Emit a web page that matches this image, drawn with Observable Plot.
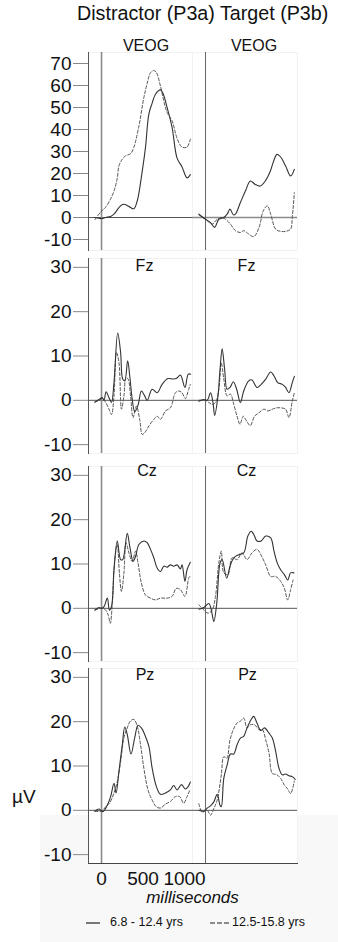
<!DOCTYPE html>
<html><head><meta charset="utf-8">
<script src="https://cdn.jsdelivr.net/npm/d3@7"></script>
<script src="https://cdn.jsdelivr.net/npm/@observablehq/plot@0.6"></script>
<style>
body{margin:0;background:#fff;font-family:"Liberation Sans",Arial,sans-serif;}
#root{position:relative;width:338px;height:942px;overflow:hidden;background:#fff;}
.t{position:absolute;white-space:nowrap;color:#111;}
</style></head><body><div id="root"></div>
<script>
// ---- categories / labels ----
const conditions = ["Distractor (P3a)", "Target (P3b)"];
const channels = ["VEOG", "Fz", "Cz", "Pz"];
const groups = ["6.8 - 12.4 yrs", "12.5-15.8 yrs"];
const veogTicks = [-10, 0, 10, 20, 30, 40, 50, 60, 70];
const eegTicks = [-10, 0, 10, 20, 30];
const timeTicks = [0, 500, 1000];

// ---- series: [milliseconds, µV] ----
const veogDistYoung = [[-80,0],[0,-0.5],[50,0],[110,0.5],[150,1.5],[210,4.5],[260,6],[310,5.5],[350,4.5],[390,4],[430,7.5],[490,21],[530,32],[570,47],[610,52],[650,56],[710,58],[740,56.5],[790,50],[850,41],[910,27],[970,23],[1030,18],[1070,19.5]];
const veogDistOlder = [[-80,-1],[-10,2.5],[50,4.7],[110,8.5],[150,12],[190,18],[210,23.5],[250,26.5],[290,28],[350,29],[390,32],[450,41.5],[510,54.5],[550,61],[590,65.8],[630,66.8],[660,66],[710,59.7],[750,53],[790,47.7],[850,44],[910,36],[970,32],[1030,32],[1070,35.6]];
const veogTargYoung = [[-80,1.5],[0,-0.8],[60,-2.3],[110,-4.5],[160,-0.8],[220,0],[260,1.5],[295,3.8],[335,1.2],[360,1.5],[420,6.8],[480,12],[540,16.6],[600,15],[660,14.3],[720,16.6],[780,21],[820,25.6],[860,28.7],[905,27.5],[965,23.4],[1025,18.9],[1070,21.9]];
const veogTargOlder = [[-80,1.2],[0,-0.8],[80,-3],[140,-0.8],[200,0],[240,-0.8],[300,-3],[360,-6],[420,-6.8],[460,-6],[520,-7.5],[580,-8.7],[645,-4.5],[695,3],[745,5.3],[785,1.5],[845,-5.3],[905,-6.3],[965,-6.3],[1025,-5.3],[1045,0],[1070,11.3]];

const fzDistYoung = [[-80,-0.4],[-30,0.2],[10,0.6],[30,0],[55,1.9],[90,0.6],[120,-0.5],[150,4],[195,15.2],[230,10.8],[255,4.8],[280,4.4],[315,8.9],[340,5.5],[370,0.2],[400,-2.6],[440,-1.1],[480,2.1],[520,1],[550,0],[610,2.5],[670,1.7],[730,3.6],[800,4.9],[860,4.8],[900,4.9],[950,5.7],[1005,2.9],[1045,5.9],[1075,5.9]];
const fzDistOlder = [[-80,-0.4],[-30,0],[10,0.4],[50,-0.5],[90,-2],[120,-3.2],[150,1],[180,10.8],[210,8.5],[240,-2],[270,1],[295,5.1],[320,4.8],[350,1],[380,-3.9],[420,-1.3],[460,-4.3],[490,-7.7],[520,-7.3],[570,-5.8],[630,-4.3],[670,-3.6],[710,-4.3],[770,-2.4],[830,-1.7],[890,1.7],[930,2.1],[970,1.7],[1010,0.4],[1050,2.5],[1070,3.6]];
const fzTargYoung = [[-80,-0.2],[-20,0.2],[20,0],[60,1.7],[90,-0.5],[110,-3.4],[150,1],[175,7],[200,11.6],[230,7],[260,2.5],[295,2.9],[335,4.2],[375,2.5],[420,-0.5],[460,2.1],[520,4.4],[560,4.6],[620,2.9],[670,3.6],[725,4.8],[785,6.4],[825,5.5],[870,4],[925,3.6],[965,2.9],[1005,1.7],[1045,4],[1070,5.4]];
const fzTargOlder = [[-80,0],[0,0],[40,-0.5],[80,-0.9],[120,-0.5],[160,2.5],[190,8.5],[220,4.8],[260,1],[300,1.4],[340,-0.9],[380,-3.6],[415,-5.4],[455,-3.6],[495,-4.7],[540,-5.7],[590,-3.6],[645,-2.8],[705,-2],[750,-2.4],[805,-2],[855,-1.7],[905,-1.7],[965,-2],[1005,-3.9],[1045,-0.2],[1070,1.7]];

const czDistYoung = [[-80,-0.4],[-30,0.2],[0,0],[30,0.4],[70,2.3],[95,-0.4],[120,0.4],[150,8.7],[190,15.2],[230,11],[255,11],[310,16.9],[340,14],[380,10.6],[410,11.7],[450,14.4],[510,15.2],[550,14.8],[590,13.3],[630,11.4],[670,9.1],[710,8.3],[750,9.5],[790,9.3],[830,9.8],[870,9.5],[910,9.8],[950,8.9],[970,9.8],[1005,6.1],[1030,8.7],[1070,10.4]];
const czDistOlder = [[-80,-0.4],[0,0],[50,-0.4],[80,-1.5],[105,-3.4],[130,1.1],[160,11],[190,14.4],[215,8],[240,3.8],[270,8],[295,14.8],[330,12.5],[370,10.6],[410,12.9],[440,10.2],[480,5.7],[530,3],[590,2.3],[650,1.9],[710,2.3],[790,2.3],[850,2.7],[900,4.5],[950,4.2],[1005,2.7],[1050,6.8],[1065,7.2]];
const czTargYoung = [[-80,-0.2],[-20,0.2],[40,1.1],[70,-0.4],[100,-3],[135,1.1],[175,10.2],[200,11],[255,6.8],[295,9.5],[340,11.4],[400,12.1],[460,12.5],[510,16.3],[550,17.4],[580,16.7],[620,15.2],[670,15.2],[725,16.3],[785,15.9],[825,12.9],[865,10.2],[905,8.7],[950,7.6],[990,6.4],[1025,8],[1065,8]];
const czTargOlder = [[-80,0.8],[-20,-0.4],[30,-1.1],[80,-0.4],[120,2.7],[160,10.2],[190,12.9],[220,8],[270,7.6],[320,11.4],[380,11],[440,12.5],[500,11],[560,12.5],[620,13.3],[685,11.4],[725,9.8],[785,7.2],[845,7.2],[905,6.1],[950,4.5],[990,1.9],[1025,4.2],[1055,6.4]];

const pzDistYoung = [[-80,-0.2],[-30,0.3],[15,-0.3],[70,1.2],[110,3.1],[150,6.1],[175,3.9],[210,8.8],[250,14.8],[280,18.8],[310,17.1],[355,12.7],[400,16.4],[440,19.2],[480,18.6],[520,17.1],[570,14.5],[610,9.5],[660,5.4],[710,3.6],[770,3.9],[830,4.6],[870,5.6],[910,4.6],[965,5.8],[1010,4.8],[1045,5.4],[1070,6.4]];
const pzDistOlder = [[-80,-0.2],[0,-0.2],[50,0.8],[95,1.6],[150,3.9],[190,6.5],[230,11],[270,16.4],[310,18.6],[350,20.2],[390,20.5],[430,19],[470,14.8],[510,9.5],[560,4.6],[610,2.3],[660,0.8],[710,0.5],[770,1.4],[830,2],[890,3.1],[940,3.1],[990,1.6],[1030,3.1],[1065,4.6]];
const pzTargYoung = [[-80,0],[-20,-0.2],[20,0.5],[60,1],[100,1.9],[140,3.6],[175,1.1],[190,0.8],[220,7.2],[260,10.2],[300,12.7],[340,12.7],[380,14.8],[420,16.3],[460,16.7],[500,18.6],[550,20.5],[580,21.2],[620,19.7],[665,18],[710,18.6],[765,17.4],[805,16.3],[845,13.3],[885,9.5],[925,8],[965,8.2],[1005,7.8],[1045,7.6],[1080,7]];
const pzTargOlder = [[-80,1.5],[-40,-0.4],[20,0],[60,-1.1],[100,0.4],[140,2.3],[190,8],[220,12.1],[255,11.7],[295,15.9],[335,18.2],[380,19.7],[420,20.1],[460,20.8],[500,18.6],[540,19.3],[590,19.3],[645,18.2],[685,18.2],[725,15.9],[765,12.9],[805,8.3],[855,8.1],[905,7.2],[950,5.7],[990,4.8],[1025,3.8],[1070,6.6]];

// ---- layout ----
const root = document.getElementById("root");
const FONT = "'Liberation Sans', Arial, sans-serif";
function place(el, left, top) {
  el.style.position = "absolute";
  el.style.left = left + "px";
  el.style.top = top + "px";
  root.appendChild(el);
}
function text(str, css) {
  const d = document.createElement("div");
  d.className = "t";
  d.textContent = str;
  Object.assign(d.style, css);
  root.appendChild(d);
  return d;
}

// faint grey band of the scanned original
const band = document.createElement("div");
Object.assign(band.style, {position:"absolute", left:"40px", top:"815px", width:"298px", height:"127px", background:"#f8f8f8"});
root.appendChild(band);

const rows = [
  {label: channels[0], series: [[veogDistYoung, veogDistOlder], [veogTargYoung, veogTargOlder]], domain: [-15, 75], ticks: veogTicks, top: 52, height: 198, dy: -12.7, dx: [5, 9]},
  {label: channels[1], series: [[fzDistYoung, fzDistOlder], [fzTargYoung, fzTargOlder]], domain: [-12, 32], ticks: eegTicks, top: 258, height: 195, dy: 1.5, dx: [3.5, 1.5]},
  {label: channels[2], series: [[czDistYoung, czDistOlder], [czTargYoung, czTargOlder]], domain: [-12, 32], ticks: eegTicks, top: 466, height: 195, dy: -2, dx: [6, 1.5]},
  {label: channels[3], series: [[pzDistYoung, pzDistOlder], [pzTargYoung, pzTargOlder]], domain: [-12, 32], ticks: eegTicks, top: 668, height: 195, dy: 0, dx: [4, 2.5]}
];

const W = 105;
const xDomain = [-157, 1108];
rows.forEach((row, ri) => {
  [0, 1].forEach(ci => {
    const isLeft = ci === 0;
    const isBottom = ri === rows.length - 1;
    const [young, older] = row.series[ci];
    const ml = isLeft ? 88 : 0;
    const mb = isBottom ? 30 : 0;
    const marks = [
      Plot.frame({fill: "white", stroke: "#f1f1f1"}),
      Plot.ruleY([0], {stroke: ri === 0 && !isLeft ? "#8a8a8a" : "#555", strokeWidth: ri === 0 && !isLeft ? 1.5 : 1}),
      Plot.ruleX([0], {stroke: isLeft ? "#8a8a8a" : "#666", strokeWidth: isLeft ? 1.6 : 1}),
      Plot.line(older, {x: d => d[0], y: d => d[1], stroke: "#555", strokeWidth: 1, strokeDasharray: "3,2", curve: "catmull-rom"}),
      Plot.line(young, {x: d => d[0], y: d => d[1], stroke: "#333", strokeWidth: 1.1, curve: "catmull-rom"}),
      Plot.text([row.label], {text: d => d, frameAnchor: "top", dx: row.dx[ci], dy: row.dy, fontSize: 16, fill: "#111"})
    ];
    if (isLeft) {
      marks.push(Plot.axisY({ticks: row.ticks, tickSize: 15, tickPadding: 2, fontSize: 19, tickFormat: d => String(d), stroke: "#888", fill: "#111"}));
      marks.push(Plot.frame({anchor: "left", stroke: "#555"}));
    }
    if (isBottom) {
      marks.push(Plot.frame({anchor: "bottom", stroke: "#444"}));
      if (isLeft) marks.push(Plot.axisX({ticks: timeTicks, tickSize: 0, tickPadding: 8, fontSize: 19, tickFormat: d => String(d), fill: "#111"}));
    }
    const svg = Plot.plot({
      width: ml + W, height: row.height + mb,
      marginLeft: ml, marginRight: 0, marginTop: 0, marginBottom: mb,
      x: {domain: xDomain, axis: null},
      y: {domain: row.domain, axis: null},
      style: {fontFamily: FONT, overflow: "visible", background: "transparent"},
      marks
    });
    place(svg, isLeft ? 0 : 192, row.top);
  });
});

// ---- texts ----
text(conditions[0] + " " + conditions[1], {left: "77px", top: "4px", fontSize: "19.7px", lineHeight: "19.7px"});
text("µV", {left: "12px", top: "787px", fontSize: "19px", lineHeight: "19px", background: "#fff"});
text("milliseconds", {left: "92.5px", width: "200px", textAlign: "center", top: "888.6px", fontSize: "17px", lineHeight: "17px", fontStyle: "italic"});

// ---- legend ----
const leg = document.createElementNS("http://www.w3.org/2000/svg", "svg");
leg.setAttribute("width", "338"); leg.setAttribute("height", "20");
leg.innerHTML = '<line x1="86" x2="100" y1="8" y2="8" stroke="#222" stroke-width="1.2"/>' +
  '<line x1="210" x2="229" y1="8" y2="8" stroke="#222" stroke-width="1.2" stroke-dasharray="5,2"/>';
place(leg, 0, 915);
text(groups[0], {left: "110px", top: "916.4px", fontSize: "12.5px", lineHeight: "12.5px"});
text(groups[1], {left: "232px", top: "916.4px", fontSize: "12.5px", lineHeight: "12.5px"});
</script></body></html>
